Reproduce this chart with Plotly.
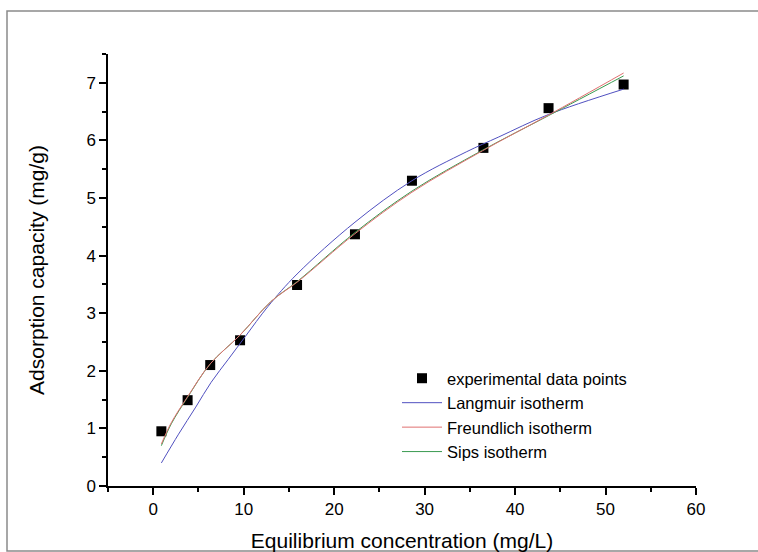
import plotly.graph_objects as go

# Experimental data
exp_x = [0.9, 3.8, 6.3, 9.6, 15.9, 22.3, 28.6, 36.5, 43.7, 52.0]
exp_y = [0.95, 1.49, 2.10, 2.53, 3.49, 4.37, 5.30, 5.87, 6.56, 6.97]

# Fitted curves
lang_x = [0.9, 2.8, 4.7, 6.4, 8.3, 10.2, 12.7, 15.9, 22.3, 28.6, 34.6, 38.2, 43.7, 52.0]
lang_y = [0.40, 0.90, 1.37, 1.80, 2.20, 2.60, 3.12, 3.68, 4.58, 5.30, 5.80, 6.06, 6.45, 6.89]

fit_x = [0.9, 2.0, 3.8, 6.3, 9.6, 13.0, 16.0, 22.3, 28.6, 36.4, 43.7, 52.0]
freu_y = [0.73, 1.10, 1.55, 2.12, 2.62, 3.20, 3.55, 4.38, 5.10, 5.82, 6.44, 7.17]
sips_y = [0.70, 1.08, 1.54, 2.12, 2.62, 3.20, 3.56, 4.40, 5.12, 5.83, 6.43, 7.12]

FONT = "Liberation Sans, Arial, sans-serif"

fig = go.Figure()
fig.add_trace(go.Scatter(x=exp_x, y=exp_y, mode="markers", name="experimental data points",
                         marker=dict(symbol="square", size=10, color="black"), legendrank=1))
fig.add_trace(go.Scatter(x=lang_x, y=lang_y, mode="lines", name="Langmuir isotherm",
                         line=dict(color="#5050c0", width=1, shape="spline"), legendrank=2))
fig.add_trace(go.Scatter(x=fit_x, y=sips_y, mode="lines", name="Sips isotherm",
                         line=dict(color="#3a9a50", width=1, shape="spline"), legendrank=4))
fig.add_trace(go.Scatter(x=fit_x, y=freu_y, mode="lines", name="Freundlich isotherm",
                         line=dict(color="#e07070", width=1, shape="spline"), legendrank=3))

L, R, T, B = 108, 62, 54, 66
W, H = 758, 552
pw, ph = W - L - R, H - T - B

fig.update_layout(
    width=W, height=H,
    margin=dict(l=L, r=R, t=T, b=B, autoexpand=False),
    paper_bgcolor="white", plot_bgcolor="white",
    font=dict(family=FONT, color="black", size=17),
    showlegend=True,
    legend=dict(x=(397 - L) / pw, y=(486 - 361) / ph, xanchor="left", yanchor="top",
                font=dict(size=16.5, family=FONT), bgcolor="rgba(0,0,0,0)",
                tracegroupgap=0, itemwidth=40),
    shapes=[dict(type="rect", xref="paper", yref="paper",
                 x0=(7 - L) / pw, x1=(762 - L) / pw,
                 y0=-(551 - (H - B)) / ph, y1=1 + (T - 11) / ph,
                 line=dict(color="#8a8a8a", width=1.5), fillcolor="rgba(0,0,0,0)", layer="below")],
)

fig.update_xaxes(range=[-5, 60], dtick=10, tick0=0, showgrid=False, zeroline=False,
                 showline=True, linecolor="black", linewidth=1.5, automargin=False,
                 ticks="outside", ticklen=7, tickwidth=1.5, tickcolor="black",
                 minor=dict(dtick=5, tick0=0, ticks="outside", ticklen=4, tickwidth=1.5, tickcolor="black", showgrid=False),
                 tickfont=dict(size=17),
                 title=dict(text="Equilibrium concentration (mg/L)", font=dict(size=21), standoff=24))
fig.update_yaxes(range=[0, 7.5], dtick=1, tick0=0, showgrid=False, zeroline=False,
                 showline=True, linecolor="black", linewidth=1.5, automargin=False,
                 ticks="outside", ticklen=7, tickwidth=1.5, tickcolor="black",
                 minor=dict(dtick=0.5, tick0=0, ticks="outside", ticklen=4, tickwidth=1.5, tickcolor="black", showgrid=False),
                 tickfont=dict(size=17),
                 title=dict(text="Adsorption capacity (mg/g)", font=dict(size=21), standoff=36))

fig.write_html("out.html")
